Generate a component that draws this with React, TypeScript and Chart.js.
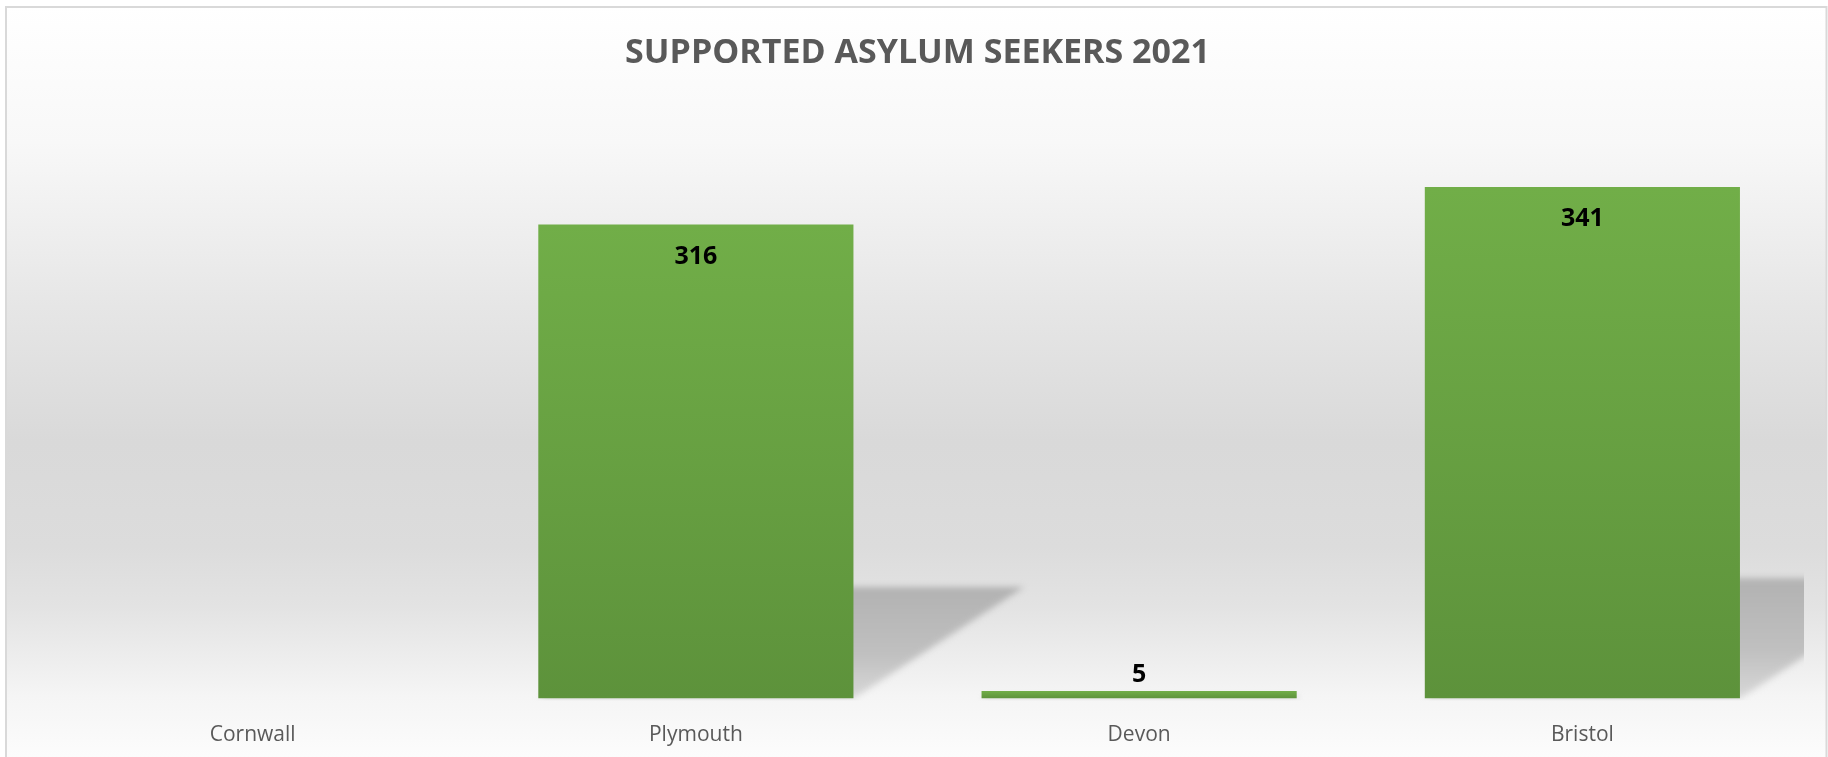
import React, { useEffect, useRef } from "react";
import { Chart, registerables } from "chart.js";

Chart.register(...registerables);

const chartTitle = "SUPPORTED ASYLUM SEEKERS 2021";
const categories = ["Cornwall", "Plymouth", "Devon", "Bristol"];
const seekers: (number | null)[] = [null, 316, 5, 341];
const yMin = 0;
const yMax = 400;

const FONT = '"Open Sans", "Noto Sans", sans-serif';
const W = 1828;
const H = 757;

const backgroundPlugin = {
  id: "bgPanel",
  beforeDraw(chart: any) {
    const ctx = chart.ctx;
    ctx.save();
    ctx.fillStyle = "#ffffff";
    ctx.fillRect(0, 0, chart.width, chart.height);
    const g = ctx.createLinearGradient(0, 7, 0, chart.height);
    g.addColorStop(0, "#ffffff");
    g.addColorStop(0.18, "#f8f8f8");
    g.addColorStop(0.4, "#e6e6e6");
    g.addColorStop(0.58, "#d9d9d9");
    g.addColorStop(0.72, "#dcdcdc");
    g.addColorStop(0.8, "#e3e3e3");
    g.addColorStop(0.92, "#f5f5f5");
    g.addColorStop(1, "#fcfcfc");
    ctx.fillStyle = g;
    ctx.fillRect(6, 7, chart.width - 8, chart.height);
    ctx.strokeStyle = "#d9d9d9";
    ctx.lineWidth = 2;
    ctx.strokeRect(6, 7, chart.width - 7.5, chart.height + 20);
    ctx.restore();
  },
};

const shadowPlugin = {
  id: "barShadow",
  beforeDatasetsDraw(chart: any) {
    const ctx = chart.ctx;
    const area = chart.chartArea;
    const meta = chart.getDatasetMeta(0);
    ctx.save();
    ctx.beginPath();
    ctx.rect(area.left, area.top, area.right - area.left, area.bottom - area.top + 2);
    ctx.clip();
    ctx.filter = "blur(3px)";
    meta.data.forEach((el: any, i: number) => {
      if (seekers[i] == null) return;
      const left = el.x - el.width / 2;
      const right = el.x + el.width / 2;
      const h = el.base - el.y;
      if (h <= 0) return;
      const dx = 0.36 * h;
      const dy = 0.235 * h;
      const g = ctx.createLinearGradient(0, el.base - dy, 0, el.base);
      g.addColorStop(0, "#b2b2b2");
      g.addColorStop(0.6, "#c0c0c0");
      g.addColorStop(1, "#d8d8d8");
      ctx.fillStyle = g;
      ctx.beginPath();
      ctx.moveTo(left, el.base);
      ctx.lineTo(right, el.base);
      ctx.lineTo(right + dx, el.base - dy);
      ctx.lineTo(left + dx, el.base - dy);
      ctx.closePath();
      ctx.fill();
    });
    ctx.restore();
  },
};

const labelPlugin = {
  id: "barLabels",
  afterDatasetsDraw(chart: any) {
    const ctx = chart.ctx;
    const meta = chart.getDatasetMeta(0);
    ctx.save();
    ctx.font = `bold 25px ${FONT}`;
    ctx.fillStyle = "#000000";
    ctx.textAlign = "center";
    ctx.textBaseline = "alphabetic";
    meta.data.forEach((el: any, i: number) => {
      const v = seekers[i];
      if (v == null) return;
      const h = el.base - el.y;
      const y = h > 60 ? el.y + 39 : el.y - 9;
      ctx.fillText(String(v), el.x, y);
    });
    ctx.restore();
  },
};

export default function App() {
  const ref = useRef<HTMLCanvasElement | null>(null);

  useEffect(() => {
    document.body.style.margin = "0";
    const canvas = ref.current;
    if (!canvas) return;
    const chart = new Chart(canvas, {
      type: "bar",
      data: {
        labels: categories,
        datasets: [
          {
            data: seekers,
            borderWidth: 0,
            categoryPercentage: 1,
            barPercentage: 0.711,
            backgroundColor: (c: any) => {
              const ch = c.chart;
              const fallback = "#66a042";
              if (!ch.chartArea || c.dataIndex == null) return fallback;
              const v = seekers[c.dataIndex];
              if (v == null) return fallback;
              const ys = ch.scales.y;
              const top = ys.getPixelForValue(v);
              const base = ys.getPixelForValue(0);
              if (!isFinite(top) || !isFinite(base) || base - top < 0.5) return fallback;
              const g = ch.ctx.createLinearGradient(0, top, 0, base);
              g.addColorStop(0, "#71ae48");
              g.addColorStop(1, "#5d923b");
              return g;
            },
          },
        ],
      },
      options: {
        responsive: false,
        animation: false,
        devicePixelRatio: 1,
        layout: { padding: { left: 31, right: 24, top: 0, bottom: 0 } },
        plugins: {
          legend: { display: false },
          tooltip: { enabled: false },
          title: {
            display: true,
            text: chartTitle,
            color: "#595959",
            font: { family: FONT, size: 34, weight: "bold", lineHeight: 1.2 },
            padding: { top: 33, bottom: 24.7 },
          },
        },
        scales: {
          x: {
            grid: { display: false, drawTicks: false },
            border: { display: false },
            ticks: {
              color: "#595959",
              font: { family: FONT, size: 21 },
              padding: 24,
              maxRotation: 0,
              autoSkip: false,
            },
            afterFit: (scale: any) => {
              scale.height = 58.5;
            },
          },
          y: {
            display: false,
            min: yMin,
            max: yMax,
          },
        },
      },
      plugins: [backgroundPlugin, shadowPlugin, labelPlugin],
    });
    return () => chart.destroy();
  }, []);

  return (
    <div style={{ width: W, height: H }}>
      <canvas ref={ref} width={W} height={H} style={{ display: "block" }} />
    </div>
  );
}
